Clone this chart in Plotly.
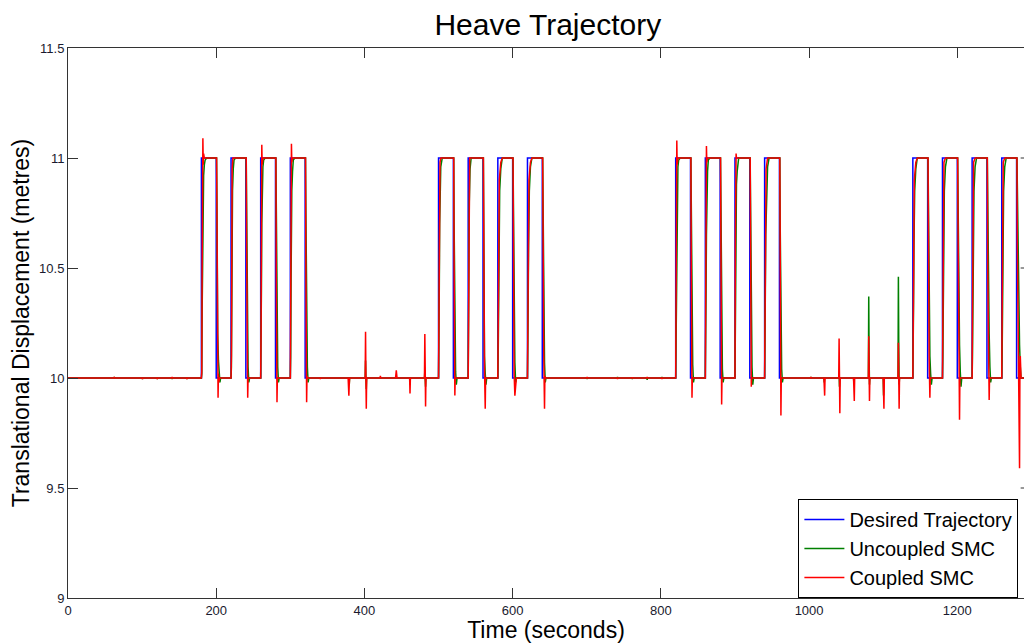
import plotly.graph_objects as go

# ---------------- data ----------------
desired_t = [0, 180, 180, 200, 200, 220, 220, 240, 240, 260, 260, 280, 280, 300, 300, 320, 320,
             500, 500, 520, 520, 540, 540, 560, 560, 580, 580, 600, 600, 620, 620, 640, 640,
             820, 820, 840, 840, 860, 860, 880, 880, 900, 900, 920, 920, 940, 940, 960, 960,
             1140, 1140, 1160, 1160, 1180, 1180, 1200, 1200, 1220, 1220, 1240, 1240, 1260, 1260, 1280, 1280, 1300]
desired_y = [10, 10, 11, 11, 10, 10, 11, 11, 10, 10, 11, 11, 10, 10, 11, 11, 10,
             10, 11, 11, 10, 10, 11, 11, 10, 10, 11, 11, 10, 10, 11, 11, 10,
             10, 11, 11, 10, 10, 11, 11, 10, 10, 11, 11, 10, 10, 11, 11, 10,
             10, 11, 11, 10, 10, 11, 11, 10, 10, 11, 11, 10, 10, 11, 11, 10, 10]

uncoupled_pts = [
    (0, 10), (62, 10), (62.5, 10.004), (63, 10), (100, 10), (100.5, 9.995), (101, 10), (120, 10), (120.5, 9.996), (121, 10),
    (140, 10), (140.5, 9.996), (141, 10), (160, 10), (160.5, 9.996), (161, 10),
    (180, 10), (180.5, 10.02), (181, 10.3), (181.5, 10.5), (182, 10.75), (183, 10.92), (184, 10.97), (185, 10.99), (187, 11.0),
    (200.5, 11.0), (201, 10.8), (201.5, 10.4), (202, 10.2), (203, 10.08), (204, 10.03), (205, 9.98), (206, 10.0),
    (220, 10), (220.5, 10.05), (221, 10.35), (221.5, 10.7), (222, 10.85), (223, 10.95), (224, 10.99), (226, 11.0),
    (240.5, 11), (241, 10.8), (241.5, 10.5), (242, 10.2), (243, 10.05), (244, 9.98), (245, 10.0),
    (260, 10), (260.5, 10.1), (261, 10.4), (261.5, 10.7), (262, 10.88), (263, 10.96), (264, 10.99), (266, 11),
    (280.5, 11), (281, 10.8), (281.5, 10.5), (282, 10.2), (283, 10.05), (284, 9.98), (285, 10),
    (300, 10), (300.5, 10.1), (301, 10.45), (301.5, 10.7), (302, 10.85), (303, 10.94), (304, 10.99), (306, 11),
    (320.5, 11), (321, 10.75), (321.5, 10.45), (322, 10.2), (323, 10.05), (324, 9.98), (325, 10),
    (379, 10), (379.5, 9.97), (380, 10), (401, 10), (401.5, 10.08), (402, 10.0), (402.5, 9.95), (403, 10),
    (461, 10), (461.5, 9.97), (462, 10), (481, 10), (481.5, 10.03), (482.5, 9.96), (483, 10),
    (500, 10), (500.5, 10.1), (501, 10.4), (501.5, 10.7), (502, 10.88), (503, 10.96), (505, 11),
    (520.5, 11), (521, 10.7), (521.5, 10.4), (522, 10.15), (523, 10.03), (524, 9.97), (525, 10),
    (540, 10), (540.5, 10.15), (541, 10.5), (541.5, 10.8), (542.5, 10.95), (544, 11),
    (560.5, 11), (561, 10.7), (561.5, 10.35), (562, 10.1), (563, 10.02), (564, 9.97), (565, 10),
    (580, 10), (580.5, 10.1), (581, 10.4), (581.5, 10.65), (582.5, 10.85), (584, 10.95), (586, 11),
    (600.5, 11), (601, 10.75), (601.5, 10.45), (602, 10.2), (603, 10.07), (604, 9.98), (605, 10),
    (620, 10), (620.5, 10.1), (621, 10.35), (621.5, 10.6), (622.5, 10.85), (624, 10.96), (626, 11),
    (640.5, 11), (641, 10.8), (641.5, 10.5), (642, 10.2), (643, 10.07), (644, 9.98), (645, 10),
    (700, 10), (700.5, 9.995), (701, 10), (741, 10), (741.5, 10.004), (742, 10), (761, 10), (761.5, 9.995), (762, 10),
    (781, 10), (781.5, 9.992), (782, 10), (801, 10), (801.5, 10.004), (802, 10),
    (820, 10), (820.5, 10.15), (821, 10.45), (821.5, 10.75), (822, 10.9), (823, 10.96), (824, 10.99), (826, 11),
    (840.5, 11), (841, 10.75), (841.5, 10.45), (842, 10.2), (843, 10.06), (844, 9.98), (845, 10),
    (860, 10), (860.5, 10.1), (861, 10.4), (861.5, 10.65), (862, 10.82), (863, 10.94), (864, 10.99), (866, 11),
    (880.5, 11), (881, 10.7), (881.5, 10.4), (882, 10.2), (883, 10.04), (884, 9.98), (885, 10),
    (900, 10), (900.5, 10.2), (901, 10.5), (901.5, 10.75), (902, 10.88), (903, 10.94), (905, 11),
    (920.5, 11), (921, 10.7), (921.5, 10.45), (922, 10.2), (923, 10.05), (924, 9.97), (925, 10),
    (940, 10), (940.5, 10.1), (941, 10.4), (941.5, 10.65), (942.5, 10.85), (944, 10.96), (946, 11),
    (960.5, 11), (961, 10.7), (961.5, 10.4), (962, 10.15), (963, 10.04), (964, 9.98), (965, 10),
    (1002, 10), (1002.5, 10.004), (1003, 10), (1020, 10), (1020.5, 9.98), (1021, 10),
    (1040, 10), (1040.5, 10.02), (1041, 9.96), (1041.5, 10), (1060, 10), (1060.5, 9.97), (1061, 10),
    (1080, 10), (1080.5, 10.37), (1081, 10.1), (1081.5, 9.97), (1082, 10), (1100, 10), (1100.5, 9.92), (1101, 10),
    (1120, 10), (1120.5, 10.46), (1121, 10.15), (1121.5, 9.97), (1122, 10),
    (1140, 10), (1140.5, 10.1), (1141, 10.35), (1141.5, 10.6), (1142.5, 10.85), (1144, 10.95), (1146, 11),
    (1160.5, 11), (1161, 10.75), (1162, 10.4), (1163, 10.1), (1164, 10.02), (1165, 9.97), (1166, 10),
    (1180, 10), (1180.5, 10.1), (1181, 10.4), (1181.5, 10.65), (1182.5, 10.85), (1184, 10.96), (1186, 11),
    (1200.5, 11), (1201, 10.8), (1202, 10.45), (1203, 10.15), (1204, 10.03), (1205, 9.96), (1206, 10),
    (1220, 10), (1220.5, 10.1), (1221, 10.4), (1221.5, 10.65), (1222.5, 10.85), (1224, 10.96), (1226, 11),
    (1240.5, 11), (1241, 10.8), (1242, 10.5), (1243, 10.2), (1244, 10.05), (1245, 9.98), (1246, 10),
    (1260, 10), (1260.5, 10.1), (1261, 10.4), (1261.5, 10.65), (1262.5, 10.85), (1264, 10.96), (1266, 11),
    (1280.5, 11), (1281, 10.85), (1282, 10.6), (1283, 10.3), (1284, 10.15), (1285, 10.05), (1286, 10), (1300, 10),
]

coupled_pts = [
    (0, 10), (62, 10), (62.5, 10.004), (63, 10), (100, 10), (100.5, 9.996), (101, 10), (120, 10), (120.5, 9.995), (121, 10),
    (140, 10), (140.5, 10.004), (141, 10), (160, 10), (160.5, 9.995), (161, 10),
    (180, 10), (180.5, 10.03), (181, 10.5), (181.5, 10.95), (182, 11.09), (182.5, 10.97), (183, 11.02), (184, 11.0),
    (200.5, 11.0), (201, 10.6), (201.5, 10.1), (202, 10.03), (202.5, 9.91), (203, 10.02), (203.5, 9.98), (204.5, 10.0),
    (220, 10), (220.5, 10.1), (221, 10.6), (221.5, 10.95), (222.5, 11.0),
    (240.5, 11.0), (241, 10.6), (241.5, 10.1), (242, 10.0), (242.5, 9.91), (243, 10.0),
    (260, 10), (260.5, 10.2), (261, 10.8), (261.5, 11.06), (262, 10.97), (263, 11.0),
    (280.5, 11), (281, 10.5), (281.5, 10.05), (282, 9.89), (282.5, 10.0),
    (300, 10), (300.5, 10.3), (301, 10.85), (301.5, 11.065), (302, 10.98), (303, 11.0),
    (320.5, 11), (321, 10.5), (321.5, 10.05), (322, 9.89), (322.5, 10.01), (323, 10),
    (340, 10), (340.5, 9.995), (341, 10),
    (378, 10), (378.5, 9.96), (379, 9.92), (379.5, 9.97), (380, 10),
    (401, 10), (401.5, 10.21), (402, 10.0), (402.5, 9.86), (403, 10.0),
    (421, 10), (421.5, 10.01), (422, 10),
    (442, 10), (443, 10.035), (444, 10),
    (461, 10), (461.5, 9.93), (462, 10),
    (481, 10), (481.5, 10.2), (482, 10.05), (482.5, 9.87), (483, 10),
    (500, 10), (500.5, 10.3), (501, 10.8), (502, 10.98), (503, 11.0),
    (520.5, 11), (521, 10.5), (521.5, 10.05), (522, 9.92), (522.5, 10),
    (540, 10), (540.5, 10.4), (541, 10.9), (542, 11.0),
    (560.5, 11), (561, 10.6), (562, 10.05), (563, 9.86), (563.5, 10.0),
    (580, 10), (580.5, 10.2), (581, 10.6), (582, 10.9), (584, 10.98), (586, 11.0),
    (600.5, 11), (601, 10.5), (602, 10.02), (603, 9.92), (604, 9.97), (605, 10),
    (620, 10), (620.5, 10.3), (621, 10.7), (622, 10.9), (624, 10.98), (626, 11.0),
    (640.5, 11), (641, 10.5), (642, 10.1), (643, 9.86), (643.5, 10.01), (644, 10),
    (700, 10), (700.5, 10.005), (701, 10), (741, 10), (741.5, 9.995), (742, 10), (761, 10), (761.5, 10.003), (762, 10),
    (781, 10), (781.5, 10.005), (782, 10), (801, 10), (801.5, 9.995), (802, 10),
    (820, 10), (820.5, 10.4), (821, 10.9), (821.5, 11.08), (822, 10.97), (823, 11.0),
    (840.5, 11), (841, 10.5), (841.5, 10.05), (842, 9.91), (842.5, 10.0),
    (860, 10), (860.5, 10.5), (861, 10.95), (861.5, 11.055), (862, 10.98), (863, 11),
    (880.5, 11), (881, 10.4), (881.5, 10.02), (882, 9.88), (882.5, 10.0),
    (900, 10), (900.5, 10.6), (901, 10.98), (901.5, 11.02), (902, 11),
    (920.5, 11), (921, 10.5), (921.5, 10.03), (922, 9.96), (922.5, 10),
    (940, 10), (940.5, 10.3), (941, 10.7), (942, 10.95), (944, 11.0),
    (960.5, 11), (961, 10.6), (961.5, 10.1), (962, 9.83), (962.5, 10.0), (963, 10),
    (1002, 10), (1002.5, 10.005), (1003, 10),
    (1020, 10), (1020.5, 9.96), (1021, 9.92), (1021.5, 10),
    (1040, 10), (1040.5, 10.18), (1041, 10.0), (1041.5, 9.84), (1042, 10),
    (1060, 10), (1060.5, 9.95), (1061, 9.895), (1061.5, 10),
    (1080, 10), (1080.5, 10.19), (1081, 10.05), (1081.5, 9.895), (1082, 10),
    (1100, 10), (1100.5, 9.93), (1101, 9.86), (1101.5, 10),
    (1120, 10), (1120.5, 10.16), (1121, 10.02), (1121.5, 9.86), (1122, 10),
    (1140, 10), (1140.5, 10.2), (1141, 10.6), (1142, 10.9), (1144, 10.98), (1146, 11.0),
    (1160.5, 11), (1161, 10.6), (1162, 10.1), (1163, 9.91), (1163.5, 10),
    (1180, 10), (1180.5, 10.3), (1181, 10.8), (1182, 10.98), (1184, 11),
    (1200.5, 11), (1201, 10.7), (1202, 10.2), (1203, 9.81), (1203.5, 10),
    (1220, 10), (1220.5, 10.3), (1221, 10.8), (1222, 10.98), (1224, 11),
    (1240.5, 11), (1241, 10.5), (1242, 10.1), (1243, 9.9), (1243.5, 10),
    (1260, 10), (1260.5, 10.3), (1261, 10.8), (1262, 10.98), (1264, 11),
    (1280.5, 11), (1281, 10.6), (1282, 10.1), (1283, 10.04), (1284, 9.59), (1284.5, 10.05), (1285, 10.1), (1286, 10), (1300, 10),
]

series_names = ["Desired Trajectory", "Uncoupled SMC", "Coupled SMC"]
series_colors = ["#0000ff", "#008000", "#ff0000"]

y_tickvals = [9, 9.5, 10, 10.5, 11, 11.5]
y_ticktext = ["9", "9.5", "10", "10.5", "11", "11.5"]
x_tickvals = [0, 200, 400, 600, 800, 1000, 1200]
x_ticktext = ["0", "200", "400", "600", "800", "1000", "1200"]

# ---------------- figure ----------------
unc_t = [p[0] for p in uncoupled_pts]
unc_y = [p[1] for p in uncoupled_pts]
cou_t = [p[0] for p in coupled_pts]
cou_y = [p[1] for p in coupled_pts]

fig = go.Figure()
fig.add_trace(go.Scatter(x=desired_t, y=desired_y, mode="lines", name=series_names[0],
                         line=dict(color=series_colors[0], width=1.5)))
fig.add_trace(go.Scatter(x=unc_t, y=unc_y, mode="lines", name=series_names[1],
                         line=dict(color=series_colors[1], width=1.5)))
fig.add_trace(go.Scatter(x=cou_t, y=cou_y, mode="lines", name=series_names[2],
                         line=dict(color=series_colors[2], width=1.5)))

# right-hand y ticks (the right axis itself lies just outside the cropped view)
for v in y_tickvals[1:-1]:
    fig.add_shape(type="line", xref="paper", yref="y", x0=0.9965, x1=1.0, y0=v, y1=v,
                  line=dict(color="#333333", width=1), layer="below")

font_family = "Liberation Sans, Arial, sans-serif"
fig.update_layout(
    width=1024, height=643,
    margin=dict(l=68, r=0, t=48, b=45),
    paper_bgcolor="white", plot_bgcolor="white",
    font=dict(family=font_family, color="#000000"),
    title=dict(text="Heave Trajectory", x=0.535, xanchor="center", y=0.962, yanchor="middle",
               font=dict(size=30, color="#000000")),
    showlegend=True,
    legend=dict(x=0.764, xanchor="left", y=0.0, yanchor="bottom",
                bgcolor="white", bordercolor="#000000", borderwidth=1,
                font=dict(size=20, color="#000000"), itemwidth=40, tracegroupgap=0),
)
fig.update_xaxes(range=[0, 1290], tickvals=x_tickvals, ticktext=x_ticktext,
                 showgrid=False, zeroline=False, showline=True, linecolor="#333333", linewidth=1,
                 mirror="ticks", ticks="inside", ticklen=10, tickcolor="#333333", tickwidth=1,
                 tickfont=dict(size=13, color="#1a1a2e"),
                 title=dict(text="Time (seconds)", font=dict(size=23, color="#000000"), standoff=4))
fig.update_yaxes(range=[9, 11.5], tickvals=y_tickvals, ticktext=y_ticktext,
                 showgrid=False, zeroline=False, showline=True, linecolor="#333333", linewidth=1,
                 ticks="inside", ticklen=10, tickcolor="#333333", tickwidth=1,
                 tickfont=dict(size=13, color="#1a1a2e"),
                 title=dict(text="Translational Displacement (metres)", font=dict(size=23, color="#000000"), standoff=3))

fig.write_html("out.html")
